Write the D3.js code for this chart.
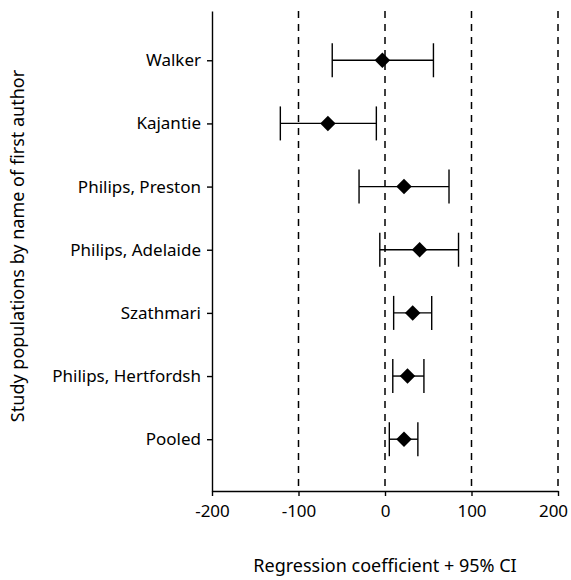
<!DOCTYPE html>
<html>
<head>
<meta charset="utf-8">
<script src="https://cdn.jsdelivr.net/npm/d3@7"></script>
<style>
  body { margin: 0; background: #fff; }
  svg text { font-family: "Noto Sans", sans-serif; fill: #000; }
</style>
</head>
<body>
<div id="container"></div>
<script>
/* DATA */
const studies = ["Walker", "Kajantie", "Philips, Preston", "Philips, Adelaide", "Szathmari", "Philips, Hertfordsh", "Pooled"];
const estimates = [-3, -66, 22, 40, 32, 26, 22];
const lower = [-61, -121, -30, -6, 10, 9, 5];
const upper = [56, -10, 74, 85, 54, 45, 38];
const xTicks = [-200, -100, 0, 100, 200];
const refLines = [-100, 0, 100, 200];

/* CONSTANTS */
const width = 571,
  height = 580,
  margin = { top: 11, bottom: 89, left: 212, right: 13 };

const svg = d3.select("#container")
  .append("svg")
  .attr("width", width)
  .attr("height", height);

/* SCALES */
const xScale = d3.scaleLinear()
  .domain([-200, 200])
  .range([margin.left, width - margin.right]);

// index scale, a bit of space above the first and below the last row
const yScale = d3.scaleLinear()
  .domain([-0.78, studies.length - 0.18])
  .range([margin.top, height - margin.bottom]);

// dashed reference lines
svg.selectAll("line.ref")
  .data(refLines)
  .join("line")
  .attr("class", "ref")
  .attr("x1", d => xScale(d))
  .attr("x2", d => xScale(d))
  .attr("y1", margin.top)
  .attr("y2", height - margin.bottom)
  .attr("stroke", "#000")
  .attr("stroke-width", 1.5)
  .attr("stroke-dasharray", "7,6");

/* AXES */
const xAxis = d3.axisBottom(xScale)
  .tickValues(xTicks)
  .tickFormat(d => String(d))   // plain hyphen, not the unicode minus
  .tickSize(5)
  .tickSizeOuter(0);
const gx = svg.append("g")
  .attr("transform", `translate(0, ${height - margin.bottom})`)
  .call(xAxis);
gx.selectAll("text")
  .attr("font-size", 17)
  .attr("dy", "1.05em")
  .attr("dx", d => d === 200 ? -5 : 0);  // keep the last label inside the window

const yAxis = d3.axisLeft(yScale)
  .tickValues(d3.range(studies.length))
  .tickFormat(i => studies[i])
  .tickSize(5)
  .tickSizeOuter(0);
const gy = svg.append("g")
  .attr("transform", `translate(${margin.left}, 0)`)
  .call(yAxis);
gy.selectAll("text").attr("font-size", 17).attr("x", -11);

svg.selectAll(".domain, .tick line")
  .attr("stroke", "#000")
  .attr("stroke-width", 1.4);

/* CONFIDENCE INTERVALS */
const rows = studies.map((s, i) => ({ s, i, est: estimates[i], lo: lower[i], hi: upper[i] }));

const ci = svg.append("g").attr("stroke", "#000").attr("stroke-width", 1.4);
ci.selectAll("line.bar")
  .data(rows)
  .join("line")
  .attr("x1", d => xScale(d.lo))
  .attr("x2", d => xScale(d.hi))
  .attr("y1", d => yScale(d.i))
  .attr("y2", d => yScale(d.i));

const capH = 17;
ci.selectAll("line.lo")
  .data(rows)
  .join("line")
  .attr("class", "lo")
  .attr("x1", d => xScale(d.lo))
  .attr("x2", d => xScale(d.lo))
  .attr("y1", d => yScale(d.i) - capH)
  .attr("y2", d => yScale(d.i) + capH);
ci.selectAll("line.hi")
  .data(rows)
  .join("line")
  .attr("class", "hi")
  .attr("x1", d => xScale(d.hi))
  .attr("x2", d => xScale(d.hi))
  .attr("y1", d => yScale(d.i) - capH)
  .attr("y2", d => yScale(d.i) + capH);

// diamonds
svg.selectAll("path.pt")
  .data(rows)
  .join("path")
  .attr("class", "pt")
  .attr("d", d3.symbol(d3.symbolSquare, 120))
  .attr("transform", d => `translate(${xScale(d.est)}, ${yScale(d.i)}) rotate(45)`)
  .attr("fill", "#000");

/* TITLES */
svg.append("text")
  .attr("x", (margin.left + width - margin.right) / 2)
  .attr("y", 572)
  .attr("text-anchor", "middle")
  .attr("font-size", 18)
  .text("Regression coefficient + 95% CI");

svg.append("text")
  .attr("transform", `translate(24, ${(margin.top + height - margin.bottom) / 2 - 5}) rotate(-90)`)
  .attr("text-anchor", "middle")
  .attr("font-size", 18)
  .text("Study populations by name of first author");
</script>
</body>
</html>
